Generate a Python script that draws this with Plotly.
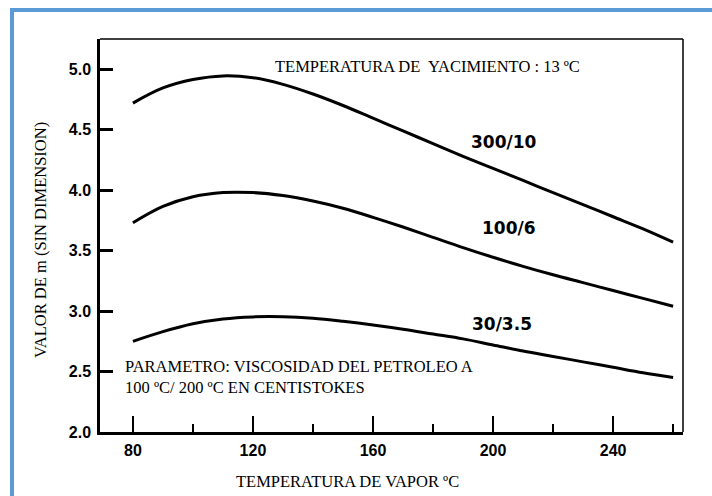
import plotly.graph_objects as go

temps = [80, 90, 100, 110, 120, 130, 140, 150, 160, 170, 180, 190, 200, 210, 220, 230, 240, 250, 260]
m_300_10 = [4.72, 4.845, 4.915, 4.945, 4.93, 4.875, 4.795, 4.70, 4.595, 4.49, 4.385, 4.28, 4.18, 4.08, 3.98, 3.88, 3.78, 3.68, 3.57]
m_100_6 = [3.73, 3.865, 3.945, 3.98, 3.98, 3.955, 3.91, 3.85, 3.775, 3.695, 3.61, 3.525, 3.445, 3.37, 3.30, 3.235, 3.17, 3.105, 3.04]
m_30_35 = [2.75, 2.83, 2.895, 2.935, 2.952, 2.953, 2.94, 2.915, 2.885, 2.85, 2.81, 2.77, 2.72, 2.67, 2.625, 2.58, 2.535, 2.49, 2.45]
series_names = ["300/10", "100/6", "30/3.5"]
x_ticks = [80, 120, 160, 200, 240]
y_ticks = [2.0, 2.5, 3.0, 3.5, 4.0, 4.5, 5.0]

fig = go.Figure()
for name, vals in zip(series_names, [m_300_10, m_100_6, m_30_35]):
    fig.add_trace(go.Scatter(x=temps, y=vals, mode="lines", name=name,
                             line=dict(color="black", width=3, shape="spline", smoothing=1.0),
                             showlegend=False, hoverinfo="skip"))

serif = "Liberation Serif"
tickfont = dict(family="Liberation Sans", size=16, color="black", weight="bold")
labfont = dict(family="DejaVu Sans", size=17, color="black", weight="bold")
sfont = dict(family=serif, size=16.5, color="black")

annotations = [
    dict(x=178, y=5.025, text="TEMPERATURA DE  YACIMIENTO : 13 ºC", showarrow=False,
         font=sfont, xanchor="center", yanchor="middle"),
    dict(x=203.7, y=4.40, text="300/10", showarrow=False, font=labfont),
    dict(x=205.4, y=3.69, text="100/6", showarrow=False, font=labfont),
    dict(x=203, y=2.895, text="30/3.5", showarrow=False, font=labfont),
    dict(x=76.7, y=2.455, text="PARAMETRO: VISCOSIDAD DEL PETROLEO A<br>100 ºC/ 200 ºC EN CENTISTOKES",
         showarrow=False, xanchor="left", yanchor="middle", align="left", font=sfont),
    dict(x=(347 - 100) / 583, y=(432 - 482) / 393, xref="paper", yref="paper",
         text="TEMPERATURA DE VAPOR ºC", showarrow=False, xanchor="center", yanchor="middle",
         font=sfont),
    dict(x=(40 - 100) / 583, y=(432 - 240) / 393, xref="paper", yref="paper",
         text="VALOR DE m (SIN DIMENSION)", showarrow=False, textangle=-90,
         xanchor="center", yanchor="middle", font=sfont),
]

def px_x(px):
    return (px - 100) / 583

def px_y(py):
    return (432 - py) / 393

blue = "#5b9bd5"
shapes = [
    dict(type="line", xref="paper", yref="paper", x0=0, x1=1, y0=1, y1=1, line=dict(color="black", width=1.5)),
    dict(type="line", xref="paper", yref="paper", x0=1, x1=1, y0=0, y1=1, line=dict(color="black", width=1.5)),
    dict(type="line", xref="paper", yref="paper", x0=px_x(10), x1=px_x(712), y0=px_y(10), y1=px_y(10),
         line=dict(color=blue, width=4)),
    dict(type="line", xref="paper", yref="paper", x0=px_x(12), x1=px_x(12), y0=px_y(8), y1=px_y(496),
         line=dict(color=blue, width=4)),
]

fig.update_layout(
    width=712, height=496,
    margin=dict(l=100, r=29, t=39, b=64),
    paper_bgcolor="white", plot_bgcolor="white",
    annotations=annotations, shapes=shapes,
    xaxis=dict(range=[69.03, 263.3], tickvals=x_ticks, ticks="inside", ticklen=16, tickwidth=2,
               tickcolor="black", showline=True, linecolor="black", linewidth=2.5,
               showgrid=False, zeroline=False, tickfont=tickfont, ticklabelstandoff=2,
               minor=dict(ticks="inside", ticklen=8, tickwidth=2, tickcolor="black", dtick=20, tick0=80, showgrid=False)),
    yaxis=dict(range=[2.0, 5.25], tickvals=y_ticks, tickformat=".1f", ticks="inside", ticklen=13,
               tickwidth=2.5, tickcolor="black", showline=True, linecolor="black", linewidth=2.5,
               showgrid=False, zeroline=False, tickfont=tickfont, ticklabelstandoff=3),
)

fig.write_html("out.html", config={"displayModeBar": False},
               post_script="document.body.style.margin='0';document.body.style.overflow='hidden';")
